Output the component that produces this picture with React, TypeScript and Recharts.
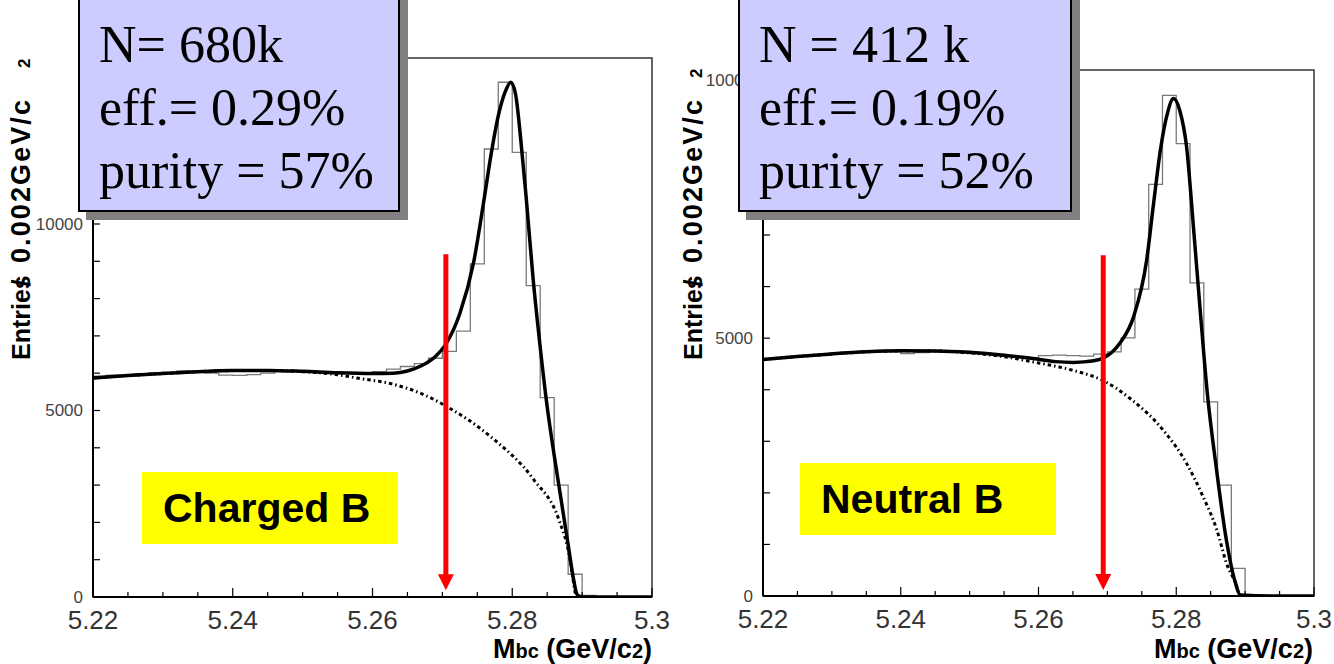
import { ComposedChart, Line, XAxis, YAxis, ReferenceArea, ReferenceLine } from "recharts";

// bin edges, 0.002 GeV wide (41 edges -> 40 bins)
const binEdges = [
  5.22, 5.222, 5.224, 5.226, 5.228, 5.23, 5.232, 5.234, 5.236, 5.238,
  5.24, 5.242, 5.244, 5.246, 5.248, 5.25, 5.252, 5.254, 5.256, 5.258,
  5.26, 5.262, 5.264, 5.266, 5.268, 5.27, 5.272, 5.274, 5.276, 5.278,
  5.28, 5.282, 5.284, 5.286, 5.288, 5.29, 5.292, 5.294, 5.296, 5.298, 5.3,
];

const chargedCounts = [
  5920, 5950, 5930, 5990, 6010, 6030, 6060, 6020, 6000, 5950,
  5940, 5960, 6000, 6070, 6050, 6040, 6010, 5990, 6000, 5990,
  6040, 6110, 6180, 6255, 6400, 6585, 7130, 8930, 12010, 13800,
  11920, 8350, 5345, 3000, 610, 40, 0, 0, 0, 0,
];

const neutralCounts = [
  4600, 4620, 4650, 4670, 4690, 4700, 4720, 4730, 4760, 4740,
  4700, 4720, 4760, 4740, 4730, 4700, 4690, 4660, 4640, 4620,
  4660, 4670, 4660, 4650, 4690, 4735, 5006, 5950, 7984, 9709,
  8773, 6072, 3766, 2151, 536, 20, 0, 0, 0, 0,
];

const chargedFitX = [5.22, 5.225, 5.23, 5.235, 5.24, 5.245, 5.25, 5.255, 5.26, 5.263, 5.265, 5.267, 5.269, 5.2705, 5.2725, 5.2745, 5.276, 5.277, 5.278, 5.279, 5.2798, 5.2805, 5.2812, 5.282, 5.283, 5.284, 5.285, 5.286, 5.287, 5.288, 5.2888, 5.2893, 5.29, 5.295, 5.3];
const chargedFitY = [5870, 5935, 5990, 6040, 6070, 6075, 6050, 6010, 5990, 6000, 6060, 6200, 6450, 6780, 7600, 9000, 10700, 11900, 12900, 13550, 13800, 13450, 12300, 10700, 8500, 6700, 5100, 3800, 2600, 1400, 450, 60, 0, 0, 0];

const chargedBgX = [5.22, 5.225, 5.23, 5.235, 5.24, 5.245, 5.25, 5.255, 5.2578, 5.2626, 5.2674, 5.2705, 5.2769, 5.2831, 5.2867, 5.2882, 5.2888, 5.2891];
const chargedBgY = [5870, 5935, 5990, 6040, 6070, 6075, 6040, 5960, 5870, 5720, 5420, 5120, 4300, 3140, 2060, 1075, 350, 0];

const neutralFitX = [5.22, 5.225, 5.23, 5.235, 5.24, 5.245, 5.25, 5.255, 5.2595, 5.2625, 5.265, 5.267, 5.2693, 5.2718, 5.2738, 5.2757, 5.2767, 5.2777, 5.2787, 5.2796, 5.2805, 5.2815, 5.2825, 5.2835, 5.2845, 5.2858, 5.2872, 5.2886, 5.2893, 5.295, 5.3];
const neutralFitY = [4587, 4645, 4695, 4735, 4754, 4752, 4725, 4670, 4600, 4545, 4530, 4545, 4610, 4900, 5413, 6512, 7600, 8650, 9350, 9645, 9420, 8710, 7150, 5500, 3950, 2500, 1150, 250, 20, 0, 0];

const neutralBgX = [5.22, 5.225, 5.23, 5.235, 5.24, 5.245, 5.25, 5.255, 5.26, 5.263, 5.266, 5.2692, 5.2733, 5.2781, 5.2815, 5.2839, 5.2859, 5.2873, 5.2888, 5.2892];
const neutralBgY = [4587, 4645, 4695, 4735, 4754, 4752, 4715, 4640, 4520, 4440, 4340, 4190, 3830, 3217, 2572, 1924, 1279, 634, 180, 0];

const xTicks = [5.22, 5.225, 5.23, 5.235, 5.24, 5.245, 5.25, 5.255, 5.26, 5.265, 5.27, 5.275, 5.28, 5.285, 5.29, 5.295, 5.3];
const majorX = [5.22, 5.24, 5.26, 5.28, 5.3];
const xTickLabels = ["5.22", "5.24", "5.26", "5.28", "5.3"];

const chargedYTicks = [0, 1000, 2000, 3000, 4000, 5000, 6000, 7000, 8000, 9000, 10000, 11000, 12000, 13000, 14000];
const neutralYTicks = [0, 1000, 2000, 3000, 4000, 5000, 6000, 7000, 8000, 9000, 10000];
const majorY = [0, 5000, 10000];
const yTickLabels = ["0", "5000", "10000"];

// cut position (arrow) : x, top, tip
const chargedCut = [5.2705, 9190, 180];
const neutralCut = [5.2694, 6608, 116];

const sans = "'Liberation Sans', Arial, Helvetica, sans-serif";
const serif = "'Liberation Serif', 'Times New Roman', serif";

const toPoints = (xs: number[], ys: number[]) => xs.map((x, i) => ({ x, y: ys[i] }));
const toHist = (counts: number[]) =>
  binEdges.map((x, i) => ({ x, y: counts[Math.min(i, counts.length - 1)] }));

const XTick = (props: any) => {
  const { x, y, payload } = props;
  const k = majorX.findIndex((m) => Math.abs(m - payload.value) < 1e-6);
  const major = k >= 0;
  return (
    <g>
      <line x1={x} x2={x} y1={y} y2={y - (major ? 9 : 5)} stroke="#000" strokeWidth={1.2} />
      {major && (
        <text x={x} y={y + 32} textAnchor="middle" fontSize={26} fill="#333" fontFamily={sans}>
          {xTickLabels[k]}
        </text>
      )}
    </g>
  );
};

const YTick = (props: any) => {
  const { x, y, payload } = props;
  const k = majorY.findIndex((m) => m === payload.value);
  return (
    <g>
      <line x1={x} x2={x + 7} y1={y} y2={y} stroke="#000" strokeWidth={1.2} />
      {k >= 0 && (
        <text x={x - 10} y={y + 6} textAnchor="end" fontSize={17} fill="#444" fontFamily={sans}>
          {yTickLabels[k]}
        </text>
      )}
    </g>
  );
};

const Arrow = (props: any) => {
  const { x1, y1, x2, y2 } = props;
  const top = Math.min(y1, y2);
  const tip = Math.max(y1, y2);
  const x = (x1 + x2) / 2;
  return (
    <g>
      <line x1={x} x2={x} y1={top} y2={tip - 14} stroke="#ff0000" strokeWidth={5} />
      <polygon points={`${x - 8},${tip - 16} ${x + 8},${tip - 16} ${x},${tip}`} fill="#ff0000" />
    </g>
  );
};

type PanelProps = {
  counts: number[];
  fitX: number[];
  fitY: number[];
  bgX: number[];
  bgY: number[];
  yMax: number;
  yTicks: number[];
  cut: number[];
  margin: { top: number; right: number; bottom: number; left: number };
};

const Panel = ({ counts, fitX, fitY, bgX, bgY, yMax, yTicks, cut, margin }: PanelProps) => (
  <ComposedChart width={700} height={664} margin={margin}>
    <XAxis
      type="number"
      dataKey="x"
      domain={[5.22, 5.3]}
      allowDataOverflow
      ticks={xTicks}
      interval={0}
      tickSize={0}
      tickMargin={0}
      tickLine={false}
      tick={(p: any) => <XTick {...p} />}
      axisLine={{ stroke: "#000", strokeWidth: 2 }}
      height={60}
    />
    <YAxis
      type="number"
      domain={[0, yMax]}
      allowDataOverflow
      ticks={yTicks}
      interval={0}
      tickSize={0}
      tickMargin={0}
      tickLine={false}
      tick={(p: any) => <YTick {...p} />}
      axisLine={{ stroke: "#000", strokeWidth: 2 }}
      width={60}
    />
    <ReferenceArea x1={5.22} x2={5.3} y1={0} y2={yMax} fill="none" stroke="#333" strokeWidth={1.5} />
    <Line data={toHist(counts)} dataKey="y" type="stepAfter" stroke="#7a7a7a" strokeWidth={1.3} dot={false} activeDot={false} isAnimationActive={false} />
    <Line data={toPoints(bgX, bgY)} dataKey="y" type="monotone" stroke="#000" strokeWidth={3} strokeDasharray="3.5 3 1.5 3" dot={false} activeDot={false} isAnimationActive={false} />
    <Line data={toPoints(fitX, fitY)} dataKey="y" type="monotone" stroke="#000" strokeWidth={3.5} dot={false} activeDot={false} isAnimationActive={false} />
    <ReferenceLine
      segment={[{ x: cut[0], y: cut[1] }, { x: cut[0], y: cut[2] }]}
      shape={(p: any) => <Arrow {...p} />}
    />
  </ComposedChart>
);

const infoBox = (left: number, width: number, lines: string[]) => (
  <div
    style={{
      position: "absolute",
      left,
      top: -10,
      width,
      height: 222,
      boxSizing: "border-box",
      background: "#ccccff",
      border: "2px solid #000",
      boxShadow: "8px 8px 0 #808080",
      padding: "21px 0 0 19px",
      fontFamily: serif,
      fontSize: 52,
      lineHeight: "63px",
      color: "#000",
      whiteSpace: "nowrap",
    }}
  >
    {lines.map((l) => (
      <div key={l}>{l}</div>
    ))}
  </div>
);

const tagBox = (left: number, top: number, text: string) => (
  <div
    style={{
      position: "absolute",
      left,
      top,
      width: 256,
      height: 72,
      boxSizing: "border-box",
      background: "#ffff00",
      paddingLeft: 21,
      fontFamily: sans,
      fontWeight: "bold",
      fontSize: 41,
      lineHeight: "72px",
      color: "#000",
      whiteSpace: "nowrap",
    }}
  >
    {text}
  </div>
);

const YTitle = ({ x, sq }: { x: number; sq: number }) => (
  <g fontFamily={sans} fontWeight="bold" fill="#000">
    <text x={x} y={360} transform={`rotate(-90 ${x} 360)`} fontSize={25}>
      Entries
    </text>
    <text x={x} y={283} transform={`rotate(-90 ${x} 283)`} fontSize={25} textAnchor="middle">
      /
    </text>
    <text x={x} y={263} transform={`rotate(-90 ${x} 263)`} fontSize={27} textLength={163} lengthAdjust="spacing">
      0.002GeV/c
    </text>
    <text x={x} y={sq} transform={`rotate(-90 ${x} ${sq})`} fontSize={17}>
      2
    </text>
  </g>
);

const XTitle = ({ x }: { x: number }) => (
  <text x={x} y={658} textAnchor="end" fontFamily={sans} fontWeight="bold" fontSize={27} fill="#000">
    <tspan>M</tspan>
    <tspan fontSize={20}>bc</tspan>
    <tspan> (GeV/c</tspan>
    <tspan fontSize={20}>2</tspan>
    <tspan>)</tspan>
  </text>
);

export default function App() {
  return (
    <div style={{ position: "absolute", left: 0, top: 0, width: 1334, height: 664, overflow: "hidden", background: "#fff" }}>
      <div style={{ position: "absolute", left: 0, top: 0 }}>
        <Panel
          counts={chargedCounts}
          fitX={chargedFitX}
          fitY={chargedFitY}
          bgX={chargedBgX}
          bgY={chargedBgY}
          yMax={14450}
          yTicks={chargedYTicks}
          cut={chargedCut}
          margin={{ top: 58, right: 48, bottom: 7, left: 33 }}
        />
      </div>
      <div style={{ position: "absolute", left: 667, top: 0 }}>
        <Panel
          counts={neutralCounts}
          fitX={neutralFitX}
          fitY={neutralFitY}
          bgX={neutralBgX}
          bgY={neutralBgY}
          yMax={10200}
          yTicks={neutralYTicks}
          cut={neutralCut}
          margin={{ top: 70, right: 53, bottom: 8, left: 36 }}
        />
      </div>
      <svg width={1334} height={664} style={{ position: "absolute", left: 0, top: 0, pointerEvents: "none" }}>
        <YTitle x={30} sq={68} />
        <YTitle x={702} sq={78} />
        <XTitle x={652} />
        <XTitle x={1313} />
      </svg>
      {infoBox(78, 322, ["N= 680k", "eff.= 0.29%", "purity = 57%"])}
      {infoBox(738, 334, ["N = 412 k", "eff.= 0.19%", "purity = 52%"])}
      {tagBox(142, 472, "Charged B")}
      {tagBox(800, 463, "Neutral B")}
    </div>
  );
}
